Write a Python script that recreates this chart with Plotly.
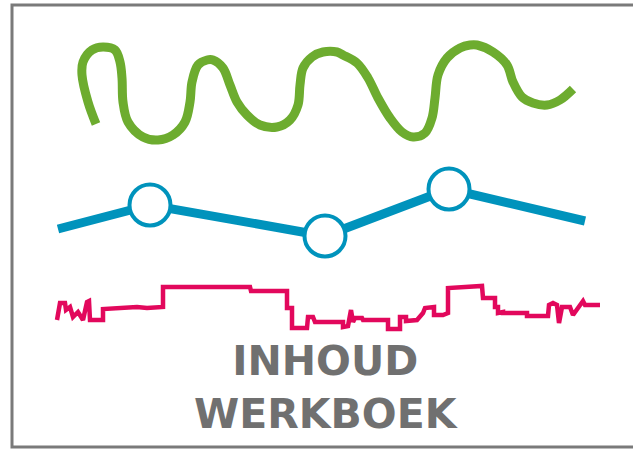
import plotly.graph_objects as go

W, H = 633, 451

# Green wavy curve (pixel space)
green_x = [96, 88, 82, 83, 92, 103, 115, 120, 122, 123, 128, 143, 158, 173, 185, 190, 192, 198, 207,
           213, 223, 230, 237, 247, 260, 277, 290, 298, 300, 303, 312, 323, 337,
           343, 357, 368, 378, 390, 402, 413, 425, 432, 435, 438, 447, 460, 470,
           477, 493, 507, 513, 522, 533, 547, 560, 573]
green_y = [124, 102, 75, 62, 50, 47, 50, 62, 78, 102, 122, 137, 140, 135, 122, 102, 82, 65, 60,
           60, 68, 85, 102, 115, 125, 127, 120, 105, 85, 68, 57, 52, 52,
           55, 63, 78, 98, 118, 132, 137, 133, 118, 98, 75, 58, 48, 45,
           45, 52, 65, 82, 97, 103, 105, 100, 89]

# Blue line with circle markers
blue_x = [58, 150, 325, 449, 585]
blue_y = [229, 205, 236, 189, 221]
marker_idx = [1, 2, 3]

# Red step line
red_x = [57, 60, 65, 66, 70, 73, 78, 83, 87, 89, 90, 103, 103, 137, 147, 163, 163, 250, 251, 287, 287,
         292, 292, 307, 308, 313, 315, 343, 343, 348, 351, 353, 355, 362, 363, 388, 388, 400, 400, 406,
         406, 417, 423, 425, 434, 434, 443, 448, 448, 482, 483, 495, 495, 498, 498, 503, 503, 527, 527,
         548, 549, 553, 557, 559, 562, 570, 573, 578, 583, 585, 600]
red_y = [320, 303, 303, 310, 307, 317, 312, 320, 302, 301, 320, 320, 309, 307, 308, 307, 287, 287, 291, 291, 308,
         308, 328, 328, 317, 317, 322, 322, 327, 326, 310, 322, 318, 318, 320, 320, 329, 329, 317, 317,
         321, 320, 313, 308, 307, 315, 315, 313, 288, 286, 298, 298, 307, 307, 313, 312, 313, 313, 316,
         316, 305, 303, 305, 323, 307, 307, 315, 308, 301, 305, 305]

title_lines = ["INHOUD", "WERKBOEK"]

fig = go.Figure()

fig.add_trace(go.Scatter(
    x=green_x, y=green_y, mode="lines",
    line=dict(color="#6DAC2F", width=9, shape="spline", smoothing=1.0),
    hoverinfo="skip"))

fig.add_trace(go.Scatter(
    x=blue_x, y=blue_y, mode="lines",
    line=dict(color="#0093BC", width=9),
    hoverinfo="skip"))

fig.add_trace(go.Scatter(
    x=[blue_x[i] for i in marker_idx], y=[blue_y[i] for i in marker_idx], mode="markers",
    marker=dict(size=41, color="white", line=dict(color="#0093BC", width=4)),
    hoverinfo="skip"))

fig.add_trace(go.Scatter(
    x=red_x, y=red_y, mode="lines",
    line=dict(color="#E2085C", width=4.5),
    hoverinfo="skip"))

fig.add_annotation(x=326, y=387, text="<br>".join(title_lines), showarrow=False,
                   font=dict(family="DejaVu Sans", size=41, color="#707070", weight=700),
                   xanchor="center", yanchor="middle", align="center")

fig.add_shape(type="rect", x0=12, y0=5, x1=660, y1=447,
              line=dict(color="#7A7A7A", width=3), layer="below")

fig.update_layout(
    width=W, height=H, margin=dict(l=0, r=0, t=0, b=0),
    paper_bgcolor="white", plot_bgcolor="white", showlegend=False,
    xaxis=dict(range=[0, W], visible=False, fixedrange=True),
    yaxis=dict(range=[H, 0], visible=False, fixedrange=True),
)

fig.write_html("out.html", config={"displayModeBar": False, "staticPlot": True},
               post_script="document.body.style.margin='0';document.body.style.overflow='hidden';")
